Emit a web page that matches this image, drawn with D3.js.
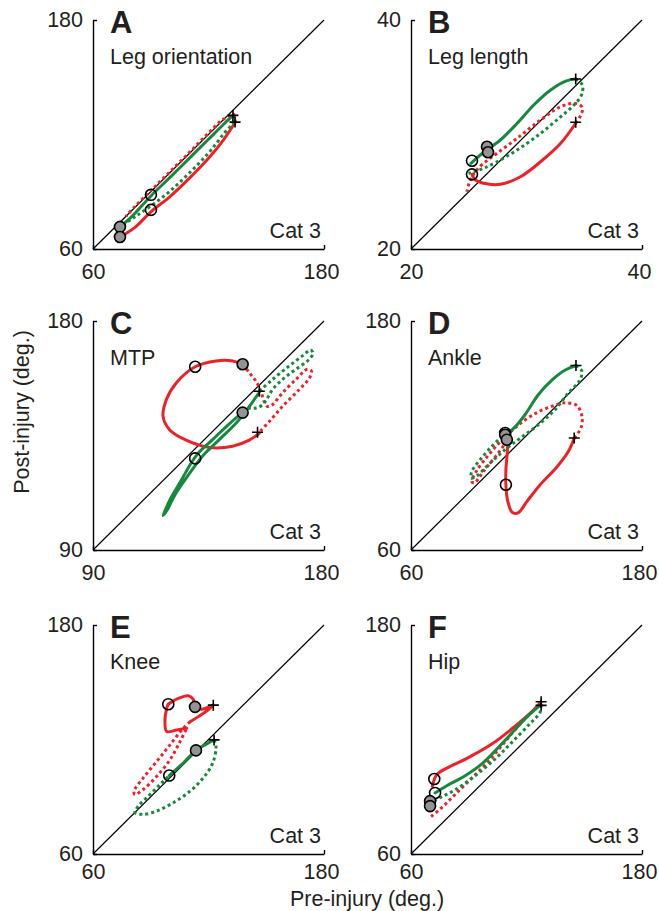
<!DOCTYPE html>
<html>
<head>
<meta charset="UTF-8">
<title>Cat 3 joint angles</title>
<script src="https://cdn.jsdelivr.net/npm/d3@7"></script>
<style>
body { margin: 0; background: #fff; }
text { font-family: "Liberation Sans", Arial, Helvetica, sans-serif; fill: #231f20; }
.traj { fill: none; stroke-width: 3; stroke-linejoin: round; }
.traj.sw { stroke-dasharray: 3 3; }
.traj.st { stroke-linecap: round; }
.diag { stroke: #000; stroke-width: 1.2; }
.axis path, .axis line { stroke: #000; stroke-width: 1.4; }
.mark { stroke: #000; stroke-width: 1.6; }
</style>
</head>
<body>
<svg id="fig" width="659" height="911"></svg>
<script>
// [pre, post, phase]  phase 1 = solid (stance), 0 = dotted (swing); phase is for the edge leaving the point
var aRed = [[74.0,66.3,1],[82,71.5,1],[90.1,79.5,1],[100,87.5,1],[110,97,1],[120,107.5,1],[128,117.5,1],
  [133.8,126.3,0],[133.2,130.5,0],[127,127.5,0],[120,120.8,0],[110,110.5,0],[100,100.5,0],[90,90.5,0],[82,82.5,0],[77,77,0]];
var aGreen = [[74.0,71.6,1],[80,76.8,1],[90.1,87.8,1],[100,97.5,1],[110,107.5,1],[120,117.5,1],[128,125.5,1],
  [132.7,130.0,0],[133.2,127,0],[128,120.5,0],[120,110.3,0],[110,99.8,0],[100,90.3,0],[90,82.5,0],[82,77,0],[76,73,0]];
var aMarks = [[74.0,71.6,"gray"],[74.0,66.3,"gray"],[90.1,88.4,"open"],[90.1,80.5,"open"],[132.7,130.0,"plus"],[133.8,126.5,"plus"]];

var bRed = [[25.28,26.52,1],[25.57,26.03,1],[26.29,25.74,1],[27.74,25.65,1],[29.48,26.31,1],[31.22,27.62,1],[32.96,29.23,1],
  [34.26,30.98,0],[34.70,31.70,0],[34.84,32.34,0],[34.26,32.72,0],[32.96,32.43,0],[31.22,31.27,0],[29.19,29.67,0],
  [27.45,28.36,0],[26.29,27.48,0],[25.57,26.75,0],[25.13,26.03,0],[24.84,25.0,0]];
var bGreen = [[25.19,27.48,1],[26.29,28.45,1],[27.74,29.52,1],[29.19,30.98,1],[30.63,32.58,1],[32.09,33.89,1],[33.39,34.67,1],
  [34.26,34.85,0],[34.84,34.32,0],[34.76,33.45,0],[34.11,32.58,0],[32.96,31.55,0],[31.22,30.10,0],[29.19,28.65,0],
  [27.45,27.62,0],[26.29,27.05,0],[25.42,26.75,0],[24.98,26.61,0]];
var bMarks = [[25.28,27.71,"open"],[25.28,26.52,"open"],[26.58,28.93,"gray"],[26.67,28.45,"gray"],[34.26,34.85,"plus"],[34.26,31.07,"plus"]];

var cRed = [[154.8,135.9,1],[150.9,133.2,1],[144.4,130.8,1],[135.4,130.3,1],[126.3,133.2,1],[119.9,137.2,1],[117.3,142.5,1],
  [118.6,149.1,1],[122.5,155.7,1],[129.8,162.0,1],[138.0,164.3,1],[144.4,164.3,1],
  [148.3,163.0,0],[150.9,159.7,0],[153.5,156.3,0],[155.4,152.4,0],[156.7,148.4,0],[158.0,146.4,0],[159.9,147.1,0],
  [163.8,151.7,0],[169.0,157.0,0],[173.5,161.0,0],[175.1,160.3,0],[174.4,157.7,0],[170.3,153.0,0],[163.8,146.4,0],
  [158.7,140.5,0],[155.4,136.9,0],[154.8,135.9,0]];
var cGreen = [[154.8,152.4,0],[159.9,157.0,0],[166.4,162.3,0],[171.6,166.3,0],[174.8,168.6,0],[175.7,167.3,0],[174.2,164.9,0],
  [169.0,161.0,0],[163.8,157.0,0],[159.9,153.0,0],[158.0,149.8,0],[156.1,147.1,0],[153.5,145.8,0],
  [150.9,145.8,1],[148.3,144.0,1],[143.1,139.6,1],[136.7,133.5,1],[131.5,128.6,1],[128.3,124.3,1],[124.4,117.4,1],
  [120.5,110.7,1],[118.3,106.1,1],[117.3,103.5,1],[118.8,105.5,1],[121.8,111.4,1],[125.7,117.4,1],[129.6,122.9,1],
  [133.4,127.7,1],[139.3,133.5,1],[145.7,139.8,1],[150.9,146.4,1],[154.8,152.0,1]];
var cMarks = [[129.8,162.0,"open"],[148.3,163.0,"gray"],[129.8,126.0,"open"],[148.3,144.0,"gray"],[154.1,136.3,"plus"],[154.8,152.4,"plus"]];

var dRed = [[110.3,119.2,1],[110.0,110.8,1],[109.3,102.0,1],[109.3,94.2,1],[110.3,85.4,1],[112.7,79.6,1],[115.8,79.6,1],
  [120.2,85.4,1],[127.1,94.2,1],[135.8,103.5,1],[141.8,111.7,1],
  [144.8,118.7,0],[148.3,124.0,0],[148.8,130.1,0],[146.2,135.7,0],[140.1,137.1,0],[133.2,135.3,0],[124.5,131.5,0],
  [116.7,126.2,0],[111.5,121.7,0],[105.4,115.7,0],[99.4,108.7,0],[94.2,101.7,0],[91.6,95.9,0],[92.9,95.1,0],
  [97.6,101.2,0],[103.7,108.7,0],[108.5,115.2,0],[110.6,118.7,0]];
var dGreen = [[108.9,119.9,1],[114.1,124.5,1],[119.3,131.0,1],[126.2,141.5,1],[133.2,149.0,1],[140.1,154.3,1],
  [145.7,156.7,0],[148.8,153.7,0],[147.4,148.5,0],[141.8,142.4,0],[134.9,133.6,0],[126.2,125.7,0],[117.6,119.2,0],
  [108.9,112.6,0],[100.2,104.7,0],[94.2,98.9,0],[91.2,97.7,0],[91.6,101.2,0],[95.9,107.3,0],[102.0,114.3,0],
  [107.2,119.2,0],[108.9,119.9,0]];
var dMarks = [[108.9,121.3,"open"],[109.3,94.2,"open"],[108.9,120.4,"gray"],[109.8,117.8,"gray"],[145.7,156.7,"plus"],[144.8,118.7,"plus"]];

var eRed = [[99.1,138.5,1],[104.3,141.5,1],[109.5,142.9,1],[112.1,141.0,1],[113.0,137.1,1],[116.5,135.8,1],[122.5,138.0,1],
  [117.3,133.7,1],[110.4,129.3,0],[106.1,125.0,0],[100.0,117.2,0],[93.1,108.5,0],[86.1,99.9,0],[81.3,92.9,0],
  [81.8,91.2,0],[86.1,93.8,0],[93.1,100.7,0],[100.0,109.4,0],[105.2,118.9,0],[108.7,125.9,1],[103.5,125.0,1],
  [98.3,124.2,1],[97.4,130.2,1],[98.3,136.3,1],[99.1,138.5,1]];
var eGreen = [[99.6,101.1,1],[106.9,107.7,1],[113.5,114.3,1],[118.2,117.2,1],[122.9,119.8,0],[123.9,116.3,0],
  [122.2,107.7,0],[117.3,99.9,0],[110.4,92.9,0],[101.7,86.9,0],[93.1,82.5,0],[86.1,80.8,0],[81.8,81.7,0],
  [83.5,85.1,0],[88.7,90.3,0],[94.8,96.4,0],[99.6,101.1,0]];
var eMarks = [[99.1,138.5,"open"],[113.0,137.1,"gray"],[122.5,138.0,"plus"],[99.6,101.1,"open"],[113.5,114.3,"gray"],[122.9,119.8,"plus"]];

var fRed = [[71.1,95.5,1],[73.4,101.6,1],[79.4,105.4,1],[89.8,110.5,1],[102.0,117.6,1],[114.1,127.0,1],[122.8,134.6,1],
  [127.6,139.6,0],[123.6,135.3,0],[117.6,129.2,0],[108.9,118.9,0],[100.2,108.5,0],[91.6,99.8,0],[82.9,91.2,0],
  [76.0,84.3,0],[70.8,79.9,0],[69.0,78.7,0]];
var fGreen = [[72.5,92.0,1],[78.6,95.8,1],[88.1,101.0,1],[96.8,107.2,1],[105.4,115.8,1],[114.1,125.2,1],[121.0,132.6,1],
  [127.6,138.3,0],[127.1,134.4,0],[121.9,128.4,0],[112.4,118.5,0],[103.7,109.8,0],[93.3,101.0,0],[82.9,93.6,0],
  [76.0,90.0,0],[71.6,87.7,0]];
var fMarks = [[72.1,99.3,"open"],[72.5,92.0,"open"],[69.9,87.7,"gray"],[69.9,85.1,"gray"],[127.6,139.8,"plus"],[127.6,137.9,"plus"]];

var letters = ["A","B","C","D","E","F"];
var names = ["Leg orientation","Leg length","MTP","Ankle","Knee","Hip"];
var domains = [[60,180],[20,40],[90,180],[60,180],[60,180],[60,180]];
var reds = [aRed,bRed,cRed,dRed,eRed,fRed];
var greens = [aGreen,bGreen,cGreen,dGreen,eGreen,fGreen];
var marks = [aMarks,bMarks,cMarks,dMarks,eMarks,fMarks];

var RED = "#ec2227", GREEN = "#16893d";
var FS = 21.5;
var cols = [93, 411], rows = [20, 321, 625], W = 231, H = 229;
var xPad = [15, 15, 10];
var svg = d3.select("#fig");

function phases(pts) {
  var segs = [], cur = null;
  pts.forEach(function(p) {
    if (cur && cur.ph === p[2]) { cur.pts.push(p); return; }
    if (cur) cur.pts.push(p);
    cur = {ph: p[2], pts: [p]};
    segs.push(cur);
  });
  return segs.filter(function(s) { return s.pts.length > 1; });
}

letters.forEach(function(L, i) {
  var r = Math.floor(i / 2);
  var x0 = cols[i % 2], top = rows[r];
  var dom = domains[i];
  var x = d3.scaleLinear().domain(dom).range([x0, x0 + W]);
  var y = d3.scaleLinear().domain(dom).range([top + H, top]);
  var g = svg.append("g");

  // axes: only the two end values, small inward tick at the far end
  var ya = g.append("g").attr("class", "axis").attr("transform", "translate(" + x0 + ",0)")
    .call(d3.axisLeft(y).tickValues(dom).tickSizeInner(-4).tickSizeOuter(0).tickPadding(10));
  var xa = g.append("g").attr("class", "axis").attr("transform", "translate(0," + (top + H) + ")")
    .call(d3.axisBottom(x).tickValues(dom).tickSizeInner(-4).tickSizeOuter(0).tickPadding(xPad[r]));
  [ya, xa].forEach(function(a) {
    a.selectAll("text").attr("font-size", FS).attr("fill", "#231f20")
      .attr("font-family", "Liberation Sans, Arial, sans-serif");
  });
  xa.selectAll(".tick").filter(function(d) { return d === dom[1]; }).select("text").attr("dx", -3);

  g.append("line").attr("class", "diag")
    .attr("x1", x(dom[0])).attr("y1", y(dom[0])).attr("x2", x(dom[1])).attr("y2", y(dom[1]));

  var line = d3.line().x(function(d) { return x(d[0]); }).y(function(d) { return y(d[1]); })
    .curve(d3.curveCatmullRom.alpha(0.5));

  [[reds[i], RED], [greens[i], GREEN]].forEach(function(s) {
    phases(s[0]).forEach(function(seg) {
      g.append("path").attr("class", "traj " + (seg.ph ? "st" : "sw"))
        .attr("stroke", s[1]).attr("d", line(seg.pts));
    });
  });

  var mk = g.append("g");
  marks[i].forEach(function(m) {
    var cx = x(m[0]), cy = y(m[1]);
    if (m[2] === "plus") {
      mk.append("path").attr("class", "mark").attr("fill", "none")
        .attr("d", "M" + (cx - 5.5) + "," + cy + "H" + (cx + 5.5) + "M" + cx + "," + (cy - 5.5) + "V" + (cy + 5.5));
    } else {
      mk.append("circle").attr("class", "mark").attr("cx", cx).attr("cy", cy).attr("r", 5.5)
        .attr("fill", m[2] === "gray" ? "#939393" : "none");
    }
  });

  g.append("text").attr("x", x0 + 17).attr("y", top + 13).attr("font-size", 31)
    .attr("font-weight", "bold").text(L);
  g.append("text").attr("x", x0 + 17).attr("y", top + 44).attr("font-size", FS).text(names[i]);
  g.append("text").attr("x", x0 + W - 3).attr("y", top + H - 11).attr("font-size", FS)
    .attr("text-anchor", "end").text("Cat 3");
});

svg.append("text").attr("transform", "translate(29,412) rotate(-90)").attr("text-anchor", "middle")
  .attr("font-size", FS).text("Post-injury (deg.)");
svg.append("text").attr("x", 367).attr("y", 906).attr("text-anchor", "middle")
  .attr("font-size", FS).text("Pre-injury (deg.)");
</script>
</body>
</html>
